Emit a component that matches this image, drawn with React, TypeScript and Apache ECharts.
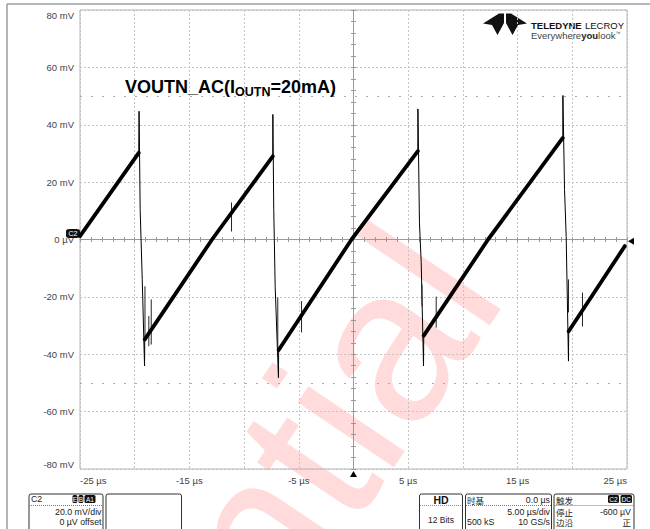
import { useEffect, useRef } from 'react';
import * as echarts from 'echarts';

const FONT = '"Liberation Sans", Arial, sans-serif';
const CJK = '"Noto Sans CJK SC", "Liberation Sans", sans-serif';

// axes
const X_MIN = -25, X_MAX = 25, X_STEP = 5;
const Y_MIN = -80, Y_MAX = 80, Y_STEP = 20;
const xLabelTimes = [-25, -15, -5, 5, 15, 25];
const yTickValues = [-80, -60, -40, -20, 0, 20, 40, 60, 80];
const yTickLabels = ['-80 mV', '-60 mV', '-40 mV', '-20 mV', '0 µV', '20 mV', '40 mV', '60 mV', '80 mV'];
const cursorLevels = [50, -50];

// waveform (t in µs, v in mV)
const ramp1 = [[-25, 1.2], [-19.63, 30.2]];
const ramp2 = [[-19.08, -34.8], [-12.93, 0], [-7.38, 29.0]];
const ramp3 = [[-6.84, -38.5], [-0.18, 0], [5.88, 30.8]];
const ramp4 = [[6.42, -33.5], [12.3, 0], [19.13, 35.4]];
const ramp5 = [[19.67, -32.0], [24.8, -2.3]];

const drop1 = [[-19.63, 30.2], [-19.6, 44.7], [-19.5, 10.5], [-19.31, -13.9], [-19.1, -44.1], [-19.08, -34.8]];
const drop2 = [[-7.38, 29.0], [-7.37, 43.6], [-7.29, 10.5], [-7.16, -16.3], [-6.86, -48.2], [-6.84, -38.5]];
const drop3 = [[5.88, 30.8], [5.89, 45.5], [6.03, 5.8], [6.19, -8.1], [6.40, -44.1], [6.42, -33.5]];
const drop4 = [[19.13, 35.4], [19.14, 50.2], [19.29, 17.4], [19.44, 1.1], [19.65, -42.4], [19.67, -32.0]];

// ringing spikes: [t, low, high]
const ringing = [
  [-19.06, -35, -16.3], [-18.71, -37.2, -26.7], [-18.49, -36.6, -20.9], [-11.15, 2.8, 12.9],
  [-6.92, -39.4, -20.2], [-4.75, -32.4, -21.5], [6.26, -23.3, -15.7], [7.56, -30.7, -19.9],
  [19.65, -25.4, -13.9], [20.93, -30.3, -18.5],
];

const TRIGGER_TIME = 0;
const TRIGGER_LEVEL = -0.6;

function buildOption() {
  const axisCommon = { min: X_MIN, max: X_MAX, interval: X_STEP, type: 'value' as const };
  const yCommon = { min: Y_MIN, max: Y_MAX, interval: Y_STEP, type: 'value' as const };
  const crossLine = { color: '#9a9a9a', width: 1 };
  const series: any[] = [];
  [ramp1, ramp2, ramp3, ramp4, ramp5].forEach((r) => {
    series.push({ type: 'line', data: r, symbol: 'none', lineStyle: { color: '#000', width: 3.8, cap: 'round' }, z: 5 });
  });
  [drop1, drop2, drop3, drop4].forEach((d) => {
    series.push({ type: 'line', data: d, symbol: 'none', lineStyle: { color: '#000', width: 1 }, z: 4 });
  });
  ringing.forEach(([t, lo, hi]) => {
    series.push({ type: 'line', data: [[t, lo], [t, hi]], symbol: 'none', lineStyle: { color: '#222', width: 1 }, z: 4 });
  });
  series.push({
    type: 'line', data: [], symbol: 'none', silent: true,
    markLine: {
      silent: true, symbol: ['none', 'none'], label: { show: false },
      lineStyle: { color: '#aaa', width: 1, type: [2, 9] },
      data: cursorLevels.map((v) => ({ yAxis: v })),
    },
    markPoint: {
      silent: true,
      data: [
        { coord: [TRIGGER_TIME, Y_MIN], symbol: 'triangle', symbolSize: [7, 6], symbolOffset: [0, 5], itemStyle: { color: '#000' }, label: { show: false } },
        { coord: [X_MAX, TRIGGER_LEVEL], symbol: 'triangle', symbolRotate: 90, symbolSize: [7, 6], symbolOffset: [4, 0], itemStyle: { color: '#000' }, label: { show: false } },
        { coord: [X_MIN, 0], symbol: 'roundRect', symbolSize: [14, 9], symbolOffset: [-7, -6], itemStyle: { color: '#111' },
          label: { show: true, formatter: 'C2', color: '#fff', fontSize: 7, fontFamily: FONT, position: 'inside' } },
      ],
    },
  });

  const txt = (text: string, x: number, y: number, extra: any = {}) => ({
    type: 'text', x, y, silent: true,
    style: { text, fontSize: 8.8, lineHeight: 9, fontFamily: FONT, fill: '#222', align: 'left', verticalAlign: 'middle', ...extra },
  });
  const box = (x: number, y: number, w: number, h: number) => ({
    type: 'rect', silent: true, shape: { x, y, width: w, height: h, r: 2 },
    style: { fill: '#fff', stroke: '#333', lineWidth: 1 },
  });
  const badge = (label: string, x: number, y: number, w: number) => ({
    type: 'group', silent: true, children: [
      { type: 'rect', shape: { x, y, width: w, height: 8, r: 1.5 }, style: { fill: '#111' } },
      { type: 'text', x: x + w / 2, y: y + 4.2, style: { text: label, fontSize: 6.5, lineHeight: 7, fontFamily: FONT, fill: '#fff', align: 'center', verticalAlign: 'middle' } },
    ],
  });
  const dotted = (x1: number, x2: number, y: number, color = '#777') => ({
    type: 'line', silent: true, shape: { x1, y1: y, x2, y2: y }, style: { stroke: color, lineWidth: 1, lineDash: [1, 1] },
  });

  const graphic: any[] = [
    // outer frame
    { type: 'line', silent: true, shape: { x1: 7, y1: 4, x2: 650, y2: 4 }, style: { stroke: '#9c9c9c', lineWidth: 1.5 } },
    { type: 'line', silent: true, shape: { x1: 7, y1: 4, x2: 7, y2: 529 }, style: { stroke: '#9c9c9c', lineWidth: 1.5 } },
    // watermark
    { type: 'text', x: 537, y: 316, rotation: (56 * Math.PI) / 180, z: -10, silent: true,
      style: { text: 'Confidential', fontSize: 220, fontFamily: FONT, fill: 'rgba(255,40,40,0.17)', align: 'right', verticalAlign: 'bottom' } },
    // logo
    { type: 'polygon', silent: true, shape: { points: [[483, 23.5], [499, 13.5], [504, 13.5], [504, 23], [497.5, 35], [492, 25]] }, style: { fill: '#111' } },
    { type: 'polygon', silent: true, shape: { points: [[527, 23.5], [511, 13.5], [506, 13.5], [506, 23], [512.5, 35], [518, 25]] }, style: { fill: '#111' } },
    { type: 'text', x: 531, y: 25.5, silent: true, style: {
      text: '{b|TELEDYNE} {r|LECROY}', verticalAlign: 'middle', align: 'left',
      rich: { b: { fontSize: 9.5, fontWeight: 'bold', fontFamily: FONT, fill: '#111' }, r: { fontSize: 9.5, fontFamily: FONT, fill: '#111' } } } },
    { type: 'text', x: 531, y: 35, silent: true, style: {
      text: '{r|Everywhere}{b|you}{r|look}{s|™}', verticalAlign: 'middle', align: 'left',
      rich: { r: { fontSize: 9.5, fontFamily: FONT, fill: '#444' }, b: { fontSize: 9.5, fontWeight: 'bold', fontFamily: FONT, fill: '#222' }, s: { fontSize: 5, fontFamily: FONT, fill: '#444', verticalAlign: 'top' } } } },
    // C2 box
    box(29, 494, 74, 45),
    txt('C2', 31, 499),
    badge('E', 72.5, 495, 4.8), badge('B', 78.5, 495, 4.8), badge('A1', 84.5, 495, 11),
    dotted(29, 103, 505.5),
    txt('20.0 mV/div', 101.5, 512, { align: 'right' }),
    txt('0 µV offset', 101.5, 521.5, { align: 'right' }),
    box(106, 494, 75.5, 45),
    // HD
    box(419.5, 494, 43, 45),
    txt('HD', 441, 500, { align: 'center', fontWeight: 'bold', fontSize: 10.5, lineHeight: 10, fill: '#111' }),
    dotted(420, 462, 505.5, '#33cc33'),
    txt('12 Bits', 441, 520, { align: 'center', fontSize: 8.5 }),
    // timebase
    box(465.5, 494, 86, 45),
    txt('时基', 467, 499.5, { fontFamily: CJK, fontSize: 8.5 }),
    txt('0.0 µs', 550, 500, { align: 'right' }),
    dotted(466, 551, 505.5),
    txt('5.00 µs/div', 550, 512, { align: 'right' }),
    txt('500 kS', 467, 522),
    txt('10 GS/s', 550, 522, { align: 'right' }),
    // trigger
    box(554, 494, 80, 45),
    txt('触发', 556, 499.5, { fontFamily: CJK, fontSize: 8.5 }),
    badge('C2', 608, 495, 11), badge('DC', 620.5, 495, 11.5),
    dotted(554.5, 633.5, 505.5),
    txt('停止', 556, 511.5, { fontFamily: CJK, fontSize: 8.5 }),
    txt('-600 µV', 631, 511.5, { align: 'right' }),
    txt('边沿', 556, 522, { fontFamily: CJK, fontSize: 8.5 }),
    txt('正', 631, 522, { align: 'right', fontFamily: CJK, fontSize: 8.5 }),
  ];

  return {
    animation: false,
    backgroundColor: '#fff',
    title: {
      text: '{a|VOUTN_AC(I}{b|OUTN}{a|=20mA)}',
      left: 120, top: 71,
      textStyle: { rich: {
        a: { fontSize: 18, fontWeight: 'bold', fontFamily: FONT, color: '#000', lineHeight: 22 },
        b: { fontSize: 12.5, fontWeight: 'bold', fontFamily: FONT, color: '#000', lineHeight: 14, verticalAlign: 'bottom' },
      } },
    },
    grid: { left: 80, right: 23, top: 10, bottom: 60, show: true, borderColor: '#b5b5b5', borderWidth: 1 },
    xAxis: [
      { ...axisCommon, position: 'bottom',
        axisLine: { show: false, onZero: false }, axisTick: { show: false },
        splitLine: { show: true, lineStyle: { color: '#c4c4c4', type: [2, 2], width: 1 } },
        axisLabel: {
          margin: 6, color: '#444', fontSize: 9.5, fontFamily: FONT,
          alignMinLabel: 'left', alignMaxLabel: 'right',
          formatter: (v: number) => (xLabelTimes.includes(v) ? `${v} µs` : ''),
        } },
      { ...axisCommon, position: 'bottom', axisLine: { show: true, onZero: true, lineStyle: crossLine },
        axisTick: { show: true, inside: true, length: 2.5, lineStyle: crossLine },
        minorTick: { show: true, splitNumber: 5, length: 2.5, lineStyle: crossLine },
        axisLabel: { show: false }, splitLine: { show: false } },
      { ...axisCommon, position: 'top', axisLine: { show: false, onZero: true },
        axisTick: { show: true, inside: true, length: 2.5, lineStyle: crossLine },
        minorTick: { show: true, splitNumber: 5, length: 2.5, lineStyle: crossLine },
        axisLabel: { show: false }, splitLine: { show: false } },
    ],
    yAxis: [
      { ...yCommon, position: 'left',
        axisLine: { show: false, onZero: false }, axisTick: { show: false },
        splitLine: { show: true, lineStyle: { color: '#c4c4c4', type: [2, 2], width: 1 } },
        axisLabel: {
          margin: 6, color: '#444', fontSize: 9.5, fontFamily: FONT,
          verticalAlignMinLabel: 'bottom', verticalAlignMaxLabel: 'top',
          formatter: (v: number) => { const i = yTickValues.indexOf(v); return i >= 0 ? yTickLabels[i] : ''; },
        } },
      { ...yCommon, position: 'left', axisLine: { show: true, onZero: true, lineStyle: crossLine },
        axisTick: { show: true, inside: true, length: 2.5, lineStyle: crossLine },
        minorTick: { show: true, splitNumber: 5, length: 2.5, lineStyle: crossLine },
        axisLabel: { show: false }, splitLine: { show: false } },
      { ...yCommon, position: 'right', axisLine: { show: false, onZero: true },
        axisTick: { show: true, inside: true, length: 2.5, lineStyle: crossLine },
        minorTick: { show: true, splitNumber: 5, length: 2.5, lineStyle: crossLine },
        axisLabel: { show: false }, splitLine: { show: false } },
    ],
    series,
    graphic,
  };
}

export default function App() {
  const ref = useRef<HTMLDivElement>(null);
  useEffect(() => {
    if (!ref.current) return;
    const chart = echarts.init(ref.current, undefined, { renderer: 'svg' });
    chart.setOption(buildOption() as any);
    return () => chart.dispose();
  }, []);
  return <div ref={ref} style={{ position: 'absolute', left: 0, top: 0, width: 650, height: 529, background: '#fff' }} />;
}
